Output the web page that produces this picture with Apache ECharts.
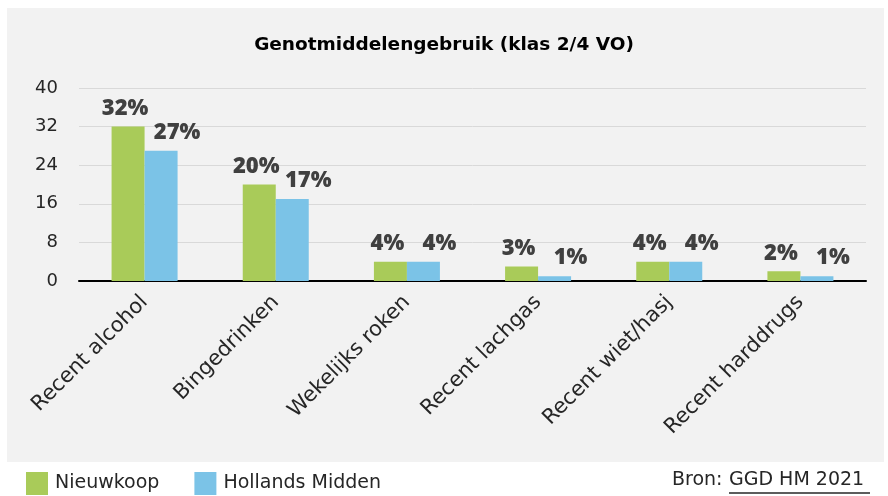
<!DOCTYPE html>
<html>
<head>
<meta charset="utf-8">
<script src="https://cdn.jsdelivr.net/npm/echarts@6/dist/echarts.min.js"></script>
<style>
  html, body { margin: 0; padding: 0; background: #ffffff; }
  #chart { width: 888px; height: 496px; }
</style>
</head>
<body>
<div id="chart"></div>
<script>
// Data
var categories = ['Recent alcohol', 'Bingedrinken', 'Wekelijks roken', 'Recent lachgas', 'Recent wiet/hasj', 'Recent harddrugs'];
var nieuwkoop = [32, 20, 4, 3, 4, 2];
var hollandsMidden = [27, 17, 4, 1, 4, 1];
var yTicks = { min: 0, max: 40, interval: 8 };

var chart = echarts.init(document.getElementById('chart'));

var labelStyle = function(dx) {
    return {
        show: true,
        position: 'top',
        distance: 7,
        offset: [dx, 0],
        formatter: '{c}%',
        fontFamily: 'Open Sans',
        fontWeight: 800,
        fontSize: 22,
        color: '#404040'
    };
};

var option = {
    backgroundColor: '#ffffff',
    animation: false,
    textStyle: { fontFamily: 'DejaVu Sans' },
    graphic: [
        {
            type: 'rect',
            z: -10,
            shape: { x: 7, y: 8, width: 877, height: 454 },
            style: { fill: '#f2f2f2' }
        },
        {
            type: 'text',
            left: 672,
            top: 471,
            style: { text: 'Bron: ', fontFamily: 'DejaVu Sans', fontSize: 19, fill: '#262626' }
        },
        {
            type: 'text',
            left: 729,
            top: 471,
            style: { text: 'GGD HM 2021', fontFamily: 'DejaVu Sans', fontSize: 19, fill: '#262626' }
        },
        {
            type: 'line',
            shape: { x1: 729, y1: 493, x2: 870, y2: 493 },
            style: { stroke: '#262626', lineWidth: 1.5 }
        }
    ],
    title: {
        text: 'Genotmiddelengebruik (klas 2/4 VO)',
        left: 'center',
        top: 31,
        textStyle: { fontFamily: 'DejaVu Sans', fontSize: 18.5, fontWeight: 'bold', color: '#000000' }
    },
    legend: {
        left: 21,
        top: 467,
        itemWidth: 22,
        itemHeight: 23,
        itemGap: 35,
        icon: 'rect',
        textStyle: { fontFamily: 'DejaVu Sans', fontSize: 19, color: '#262626', padding: [0, 0, 0, 2] },
        data: ['Nieuwkoop', 'Hollands Midden']
    },
    grid: {
        left: 79,
        right: 22,
        top: 88,
        bottom: 215
    },
    xAxis: {
        type: 'category',
        data: categories,
        axisLine: { lineStyle: { color: '#000000', width: 2 } },
        axisTick: { show: false },
        axisLabel: {
            rotate: 45,
            margin: 18,
            interval: 0,
            fontFamily: 'DejaVu Sans',
            fontSize: 21,
            color: '#262626'
        }
    },
    yAxis: {
        type: 'value',
        min: yTicks.min,
        max: yTicks.max,
        interval: yTicks.interval,
        axisLine: { show: false },
        axisTick: { show: false },
        splitLine: { lineStyle: { color: '#d9d9d9', width: 1 } },
        axisLabel: {
            margin: 21,
            fontFamily: 'DejaVu Sans',
            fontSize: 18,
            color: '#262626'
        }
    },
    series: [
        {
            name: 'Nieuwkoop',
            type: 'bar',
            data: nieuwkoop,
            barWidth: 33,
            barGap: '0%',
            itemStyle: { color: '#a9cb59' },
            label: labelStyle(-3)
        },
        {
            name: 'Hollands Midden',
            type: 'bar',
            data: hollandsMidden,
            barWidth: 33,
            itemStyle: { color: '#7bc3e7' },
            label: labelStyle(16)
        }
    ]
};

chart.setOption(option);
</script>
</body>
</html>
